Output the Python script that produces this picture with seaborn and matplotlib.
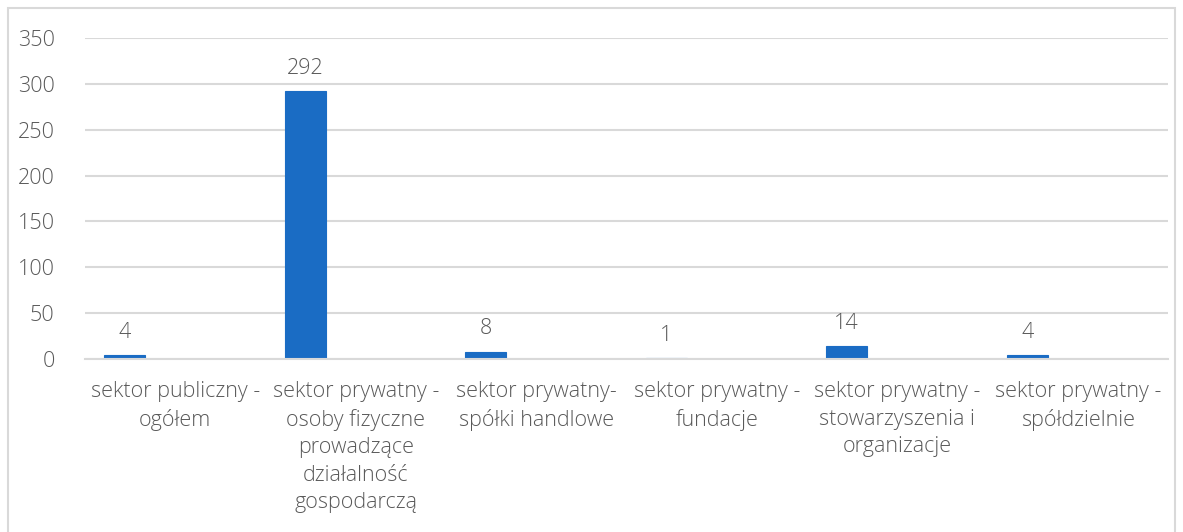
import matplotlib
matplotlib.use("Agg")
import matplotlib.pyplot as plt
import matplotlib.patches as mpatches
import seaborn as sns
import pandas as pd

categories = [
    "sektor publiczny -\nogółem",
    "sektor prywatny -\nosoby fizyczne\nprowadzące\ndziałalność\ngospodarczą",
    "sektor prywatny-\nspółki handlowe",
    "sektor prywatny -\nfundacje",
    "sektor prywatny -\nstowarzyszenia i\norganizacje",
    "sektor prywatny -\nspółdzielnie",
]
values = [4, 292, 8, 1, 14, 4]

df = pd.DataFrame({"Sektor": categories, "Liczba": values})

sns.set_style("white")
plt.rcParams["font.family"] = ["Open Sans", "DejaVu Sans"]
plt.rcParams["font.weight"] = "light"
text_color = "#595959"

fig = plt.figure(figsize=(11.83, 5.32), dpi=100)
ax = fig.add_axes([0.0719, 0.3252, 0.9154, 0.6034])

sns.barplot(data=df, x="Sektor", y="Liczba", color="#1a6cc4", width=0.227,
            saturation=1, ax=ax)

# bars sit in the left part of each category slot
for p in ax.patches:
    p.set_x(p.get_x() - 0.28)
    p.set_edgecolor("#1a6cc4")
    p.set_linewidth(0.8)

ax.bar_label(ax.containers[0], padding=9, fontsize=15.5, color=text_color)

ax.set_ylim(0, 350)
ax.set_xlim(-0.5, len(categories) - 0.5)
ax.set_yticks(range(0, 351, 50))
ax.yaxis.grid(True, color="#d9d9d9", linewidth=1.5)
ax.set_axisbelow(True)
for s in ["top", "right", "left"]:
    ax.spines[s].set_visible(False)
ax.spines["bottom"].set_color("#d9d9d9")
ax.spines["bottom"].set_linewidth(1.5)
ax.set_xlabel("")
ax.set_ylabel("")
ax.tick_params(axis="both", length=0, labelsize=15.5, labelcolor=text_color)
ax.tick_params(axis="y", pad=22)
ax.tick_params(axis="x", pad=16)
for t in ax.get_xticklabels():
    t.set_linespacing(1.4)

# light frame around the chart
fig.patches.append(mpatches.Rectangle((8 / 1183, -0.01), 1167 / 1183, 1 - 8 / 532 + 0.01,
                                      transform=fig.transFigure, fill=False,
                                      edgecolor="#d9d9d9", linewidth=1.5))

fig.savefig("out.png", dpi=100)
